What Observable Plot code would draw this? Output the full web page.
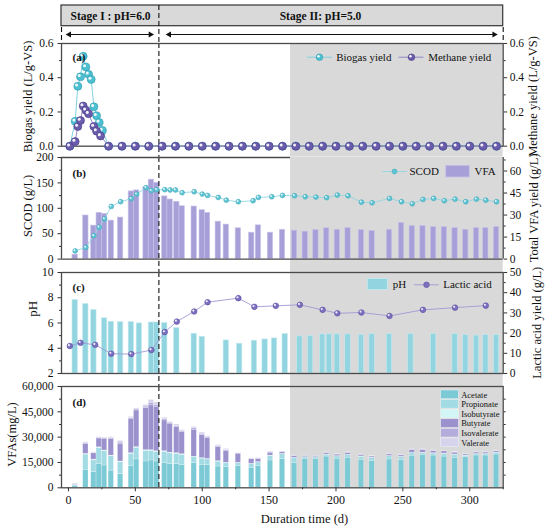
<!DOCTYPE html>
<html><head><meta charset="utf-8">
<script src="https://cdn.jsdelivr.net/npm/d3@7"></script>
<script src="https://cdn.jsdelivr.net/npm/@observablehq/plot@0.6"></script>
<style>
body{margin:0;background:#fff}
#c{position:relative;width:550px;height:529px;overflow:hidden}
#c svg{position:absolute;left:0;overflow:visible;background:transparent !important}
#c svg, #c svg text{font-family:"Liberation Serif","Times New Roman",serif !important}
</style></head><body><div id="c"></div>
<script>
// ---------------- DATA ----------------
// Panel (a)
const biogasDays = [1,5,7,9,11,13,15,17,19,21,23,25.4,30,40,50,60,70,80,90,100,110,120,130,140,150,160,170,180,190,200,210,220,230,240,250,260,270,280,290,300,310,320];
const biogasYield = [0,0.145,0.35,0.405,0.525,0.463,0.42,0.39,0.23,0.178,0.139,0.092,0,0,0,0,0,0,0,0,0,0,0,0,0,0,0,0,0,0,0,0,0,0,0,0,0,0,0,0,0,0];
const methaneDays = [1,5,7,9,11,13,15,19,21,24,30,40,50,60,70,80,90,100,110,120,130,140,150,160,170,180,190,200,210,220,230,240,250,260,270,280,290,300,310,320];
const methaneYield = [0,0.027,0.115,0.15,0.235,0.21,0.19,0.115,0.088,0.06,0,0,0,0,0,0,0,0,0,0,0,0,0,0,0,0,0,0,0,0,0,0,0,0,0,0,0,0,0,0];
// Panel (b)
const scodDays = [5,13,19,23,27,32,39,47,51,58,62,66,72,76,80,85,94,100,104,112,118,127,138,142,152,160,169,177,185,193,201,209,219,227,240,249,257,265,273,281,289,297,305,312,320];
const scod = [16,23,46,62.6,79,103.6,113,119,128,140.6,134.6,136.6,136.6,136,136,130.7,132.6,128,125.3,121.4,116,112.9,114.9,121.4,122.7,125.3,124.7,122.7,122,121,126,124.7,112,110.8,119.4,112.9,108.9,117.4,119.4,114.9,118,112.9,118,116,112.9];
const barDays = [5,13,19,23,27,32,39,47,51,58,62,66,72,76,81,85,94,100,104,112,118,127,137,142,151,160,169,177,185,193,201,209,219,227,240,249,257,265,273,281,289,297,305,312,320];
const vfaTotal = [3,29.7,22.8,31.5,30.8,26.2,28.3,46.1,46.8,49,54.1,52,42.7,40.6,39,36,35.8,33.3,31.5,25.5,23.5,21,18,23,18,20,19.4,18.7,19.9,21,20,21.2,19.9,19.2,20,24.7,22.6,22.6,21.9,21.9,21.2,20,21.2,21.2,21.9];
// Panel (c)
const phDays = [5,13,19,27,32,39,47,53,62,66,72,81,94,100,118,128,139,147,154,162,173,181,190,195,201,209,219,227,240,256,273,289,297,305,312,320];
const ph = [7.82,7.5,7.03,6.37,6.1,6.07,6.07,5.97,6.04,6.04,6.0,5.6,5.15,4.91,4.62,4.36,4.6,4.7,4.78,5.13,4.94,4.98,5.1,5.1,5.1,5.1,5.07,5.13,5.13,5.13,5.13,5.13,5.05,5.0,5.05,5.05];
const lacticDays = [1,9,20,32,47,62,72,81,94,104,127,139,155,173,190,201,219,240,265,289,312];
const lactic = [13.6,15.2,14.2,9.8,9.6,11.6,20.5,25.7,30.7,35.3,37.3,33,33.5,34,31.5,29.8,30.2,28.5,31.5,32.6,33.6];
// Panel (d) VFA composition (mg/L), same days as barDays
const acetate = [1200,10700,9300,14200,13200,10200,8300,12800,16800,15600,16200,15600,14800,14200,14200,13600,14800,13600,13600,12600,12200,12800,11900,12800,16200,17200,14600,17200,17200,18500,17200,17800,16600,16000,16800,16400,19000,19500,19100,18500,17800,18200,19100,19100,19700];
const propionate = [500,9000,7000,9400,8500,8500,7000,7300,6900,6300,5700,5700,6500,6200,5900,5900,3300,3700,3200,2900,2300,1800,2100,2200,2700,2700,3000,800,800,1000,1400,1600,1800,1600,1900,1800,1500,1100,1200,1600,1700,700,800,800,900];
const isobutyrate = [100,400,400,400,400,400,300,400,400,400,400,400,400,400,400,400,300,300,300,300,300,200,200,200,200,200,200,200,200,200,200,200,200,200,200,200,200,200,200,200,200,200,200,200,200];
const butyrate = [400,5900,3700,5200,6900,9900,10200,20400,21700,24900,26500,26000,18200,17200,15400,13300,16000,13700,12300,8300,6900,5400,2800,1900,1600,1000,900,600,600,900,900,1000,900,700,900,800,1700,1600,1300,1300,1100,700,800,800,800];
const isovalerate = [100,500,300,400,400,500,1000,500,600,900,1600,1400,800,500,800,500,800,700,550,600,600,150,150,200,400,200,200,100,100,200,150,200,150,150,150,150,200,200,200,200,200,150,200,200,200];
const valerate = [100,500,300,400,300,500,1000,600,600,900,1600,1400,800,500,800,500,800,700,550,600,700,150,150,200,400,200,200,100,100,200,150,200,150,150,150,150,200,200,200,200,200,150,200,200,200];
const acidNames = ["Acetate","Propionate","Isobutyrate","Butyrate","Isovalerate","Valerate"];
const acidColors = ["#7ccad6","#a3dbe4","#d2f6f6","#9a91cd","#b4addb","#d6d3ec"];
// Tick labels
const xTicks = [0,50,100,150,200,250,300];
const xMinor = [25,75,125,175,225,275,325];
const stageLabels = ["Stage I : pH=6.0","Stage II: pH=5.0"];

// ---------------- LAYOUT ----------------
const W = 550, ML = 61, MR = 47.3;
const xDomain = [-5.2, 325];
const stageSplit = 67.6, grayStart = 166;
const xS = d3.scaleLinear(xDomain, [ML, W - MR]);
const X = px => xS.invert(px);
const SERIF = "Liberation Serif";
const FR = "#4a4a4a", GRAY = "#d9d9d9";
const TICK_FS = 11.5;
const root = document.getElementById("c");

function mount(svg, top){ svg.style.top = top + "px"; root.appendChild(svg); }
function base(o){
  return Plot.plot(Object.assign({
    width: W, marginLeft: ML, marginRight: MR,
    x: {domain: xDomain, axis: null},
    style: {background: "transparent", overflow: "visible", fontSize: "12px", color: "#111"}
  }, o));
}
// tick values in secondary units mapped into panel units by m()
function yAxes(major, minor, fmt, anchor, m = v => v, inv = v => v){
  return [
    Plot.axisY(minor.map(m), {anchor, tickSize: 2, tickFormat: () => "", stroke: "#333", label: null}),
    Plot.axisY(major.map(m), {anchor, tickSize: 3.5, tickPadding: anchor === "left" ? 4.5 : 3, label: null,
      tickFormat: d => fmt(+inv(d).toFixed(6)), fontSize: TICK_FS, stroke: "#333", fontFamily: SERIF})
  ];
}
function balls(data, r, fill, edge){
  return [
    Plot.dot(data, {x: "day", y: "v", r, fill, stroke: edge, strokeWidth: 0.6}),
    Plot.dot(data, {x: "day", y: "v", r: r*0.38, dx: -r*0.32, dy: -r*0.32, fill: "#fff", fillOpacity: 0.9})
  ];
}
const vlabel = (t, px, Y, py, size = 12.5) => Plot.text([t], {x: X(px), y: Y(py), rotate: -90, fontSize: size, fontFamily: SERIF});
const zip = (days, vals, k = 1) => days.map((d, i) => ({day: d, v: vals[i]*k}));
const f1 = d3.format(".1f"), fInt = d => String(d), fComma = d3.format(",");

// ---------------- HEADER ----------------
{
  const arrowY = 34;
  const arrows = [[65.7, 153], [165.7, 496.7]];
  const heads = [];
  arrows.forEach(([a, b]) => { heads.push({x: X(a + 3), rot: -90}); heads.push({x: X(b - 3), rot: 90}); });
  mount(base({
    height: 43, marginTop: 0, marginBottom: 0,
    y: {domain: [43, 0], axis: null},
    marks: [
      Plot.rect([0], {x1: xDomain[0], x2: xDomain[1], y1: 5, y2: 25.7, fill: GRAY, stroke: "#333", strokeWidth: 1.2}),
      Plot.ruleX([stageSplit], {y1: 5, y2: 43, stroke: "#111", strokeWidth: 1.1, strokeDasharray: "5,3"}),
      Plot.ruleX(xDomain, {y1: 27, y2: 43, stroke: "#111", strokeWidth: 1.1, strokeDasharray: "5,3"}),
      Plot.text(stageLabels, {x: (d, i) => X(i ? 320 : 110), y: 15.5, text: d => d, fontWeight: "bold", fontSize: 11.5, fontFamily: SERIF}),
      Plot.link(arrows, {x1: d => X(d[0] + 2), x2: d => X(d[1] - 2), y1: arrowY, y2: arrowY, stroke: "#111", strokeWidth: 1.1}),
      Plot.dot(heads, {x: "x", y: arrowY, symbol: "triangle", r: 2.3, rotate: "rot", fill: "#111", stroke: "none"})
    ]
  }), 0);
}

// ---------------- PANEL (a) ----------------
{
  const top = 43, frameH = 102.7, gap = 11, dom = [0, 0.6];
  const ext = gap / frameH * (dom[1] - dom[0]);
  const Y = d3.scaleLinear([top + frameH, top], dom).clamp(false);
  const ly = Y(56.7);
  const bio = zip(biogasDays, biogasYield), met = zip(methaneDays, methaneYield);
  const leg = [{x1: 306.7, x2: 331.7, xd: 319, xt: 335.7, t: "Biogas yield", c: "#4cbfd0", e: "#2d9db2", l: "#7fd2de"},
               {x1: 398, x2: 423, xd: 411, xt: 427.7, t: "Methane yield", c: "#6b5bab", e: "#4b3d8a", l: "#9286c8"}];
  mount(base({
    height: frameH + gap, marginTop: 0, marginBottom: gap,
    y: {domain: dom, axis: null},
    marks: [
      Plot.rect([0], {x1: grayStart, x2: xDomain[1], y1: dom[1], y2: dom[0] - ext, fill: GRAY}),
      Plot.ruleX([stageSplit], {y1: dom[1], y2: dom[0] - ext, stroke: "#111", strokeWidth: 1.1, strokeDasharray: "5,3"}),
      Plot.frame({stroke: FR, strokeWidth: 1.3}),
      Plot.line(bio, {x: "day", y: "v", stroke: "#7fd2de", strokeWidth: 1}),
      Plot.line(met, {x: "day", y: "v", stroke: "#9286c8", strokeWidth: 1}),
      ...balls(bio, 4, "#4cbfd0", "#2d9db2"),
      ...balls(met, 4, "#6b5bab", "#4b3d8a"),
      ...yAxes([0, 0.2, 0.4, 0.6], [0.1, 0.3, 0.5], f1, "left"),
      ...yAxes([0, 0.2, 0.4, 0.6], [0.1, 0.3, 0.5], f1, "right"),
      Plot.text(["(a)"], {frameAnchor: "top-left", dx: 11, dy: 10, fontWeight: "bold", fontSize: 11, fontFamily: SERIF}),
      vlabel("Biogas yield (L/g-VS)", 27, Y, 96),
      vlabel("Methane yield (L/g-VS)", 533, Y, 96),
      Plot.link(leg, {x1: d => X(d.x1), x2: d => X(d.x2), y1: ly, y2: ly, stroke: "l", strokeWidth: 1}),
      Plot.dot(leg, {x: d => X(d.xd), y: ly, r: 3.3, fill: "c", stroke: "e", strokeWidth: 0.6}),
      Plot.dot(leg, {x: d => X(d.xd), y: ly, r: 1.2, dx: -1, dy: -1, fill: "#fff"}),
      Plot.text(leg, {x: d => X(d.xt), y: ly, text: "t", textAnchor: "start", fontSize: 11, fontFamily: SERIF})
    ]
  }), top);
}

// ---------------- PANEL (b) ----------------
{
  const top = 156.7, frameH = 101.6, gap = 13.4, dom = [0, 200];
  const rightMax = 69.2, k = dom[1] / rightMax;
  const ext = gap / frameH * dom[1];
  const Y = d3.scaleLinear([top + frameH, top], dom).clamp(false);
  const ly = Y(170.7);
  const sc = zip(scodDays, scod), vf = zip(barDays, vfaTotal, k);
  mount(base({
    height: frameH + gap, marginTop: 0, marginBottom: gap,
    y: {domain: dom, axis: null},
    marks: [
      Plot.rect([0], {x1: grayStart, x2: xDomain[1], y1: dom[1], y2: -ext, fill: GRAY}),
      Plot.rect(vf, {x1: d => d.day - 2, x2: d => d.day + 2, y1: 0, y2: "v", fill: "#a79fd8", stroke: "#c9c3ea", strokeWidth: 0.6}),
      Plot.ruleX([stageSplit], {y1: dom[1], y2: -ext, stroke: "#111", strokeWidth: 1.1, strokeDasharray: "5,3"}),
      Plot.ruleY([0], {stroke: FR, strokeWidth: 1.3}),
      Plot.ruleY([dom[1]], {x1: xDomain[0], x2: grayStart, stroke: FR, strokeWidth: 1.3}),
      Plot.ruleX(xDomain, {y1: 0, y2: dom[1], stroke: FR, strokeWidth: 1.3}),
      Plot.line(sc, {x: "day", y: "v", stroke: "#93d6e1", strokeWidth: 0.9}),
      ...balls(sc, 2.4, "#5fc5d4", "#3aa9ba"),
      ...yAxes([0, 50, 100, 150, 200], [25, 75, 125, 175], fInt, "left"),
      ...yAxes([0, 15, 30, 45, 60], [7.5, 22.5, 37.5, 52.5, 67.5], fInt, "right", v => v * k, d => d / k),
      Plot.text(["(b)"], {frameAnchor: "top-left", dx: 11, dy: 11.5, fontWeight: "bold", fontSize: 11, fontFamily: SERIF}),
      vlabel("SCOD (g/L)", 27, Y, 205),
      vlabel("Total VFA yield (g/L)", 533, Y, 207),
      Plot.link([0], {x1: X(381.7), x2: X(406.7), y1: ly, y2: ly, stroke: "#93d6e1", strokeWidth: 0.9}),
      Plot.dot([0], {x: X(394), y: ly, r: 2.4, fill: "#5fc5d4", stroke: "#3aa9ba", strokeWidth: 0.6}),
      Plot.text(["SCOD"], {x: X(409), y: ly, textAnchor: "start", fontSize: 11, fontFamily: SERIF}),
      Plot.rect([0], {x1: X(445.7), x2: X(469.3), y1: Y(165), y2: Y(176.7), fill: "#a79fd8", stroke: "#c9c3ea", strokeWidth: 0.8}),
      Plot.text(["VFA"], {x: X(474), y: ly, textAnchor: "start", fontSize: 11, fontFamily: SERIF})
    ]
  }), top);
}

// ---------------- PANEL (c) ----------------
{
  const top = 271.7, frameH = 101, gap = 13.3, dom = [2, 10];
  const k = (dom[1] - dom[0]) / 50;
  const ext = gap / frameH * (dom[1] - dom[0]);
  const Y = d3.scaleLinear([top + frameH, top], dom).clamp(false);
  const ly = Y(284);
  const p = zip(phDays, ph);
  const la = lacticDays.map((d, i) => ({day: d, v: dom[0] + lactic[i] * k}));
  mount(base({
    height: frameH + gap, marginTop: 0, marginBottom: gap,
    y: {domain: dom, axis: null},
    marks: [
      Plot.rect([0], {x1: grayStart, x2: xDomain[1], y1: dom[1], y2: dom[0] - ext, fill: GRAY}),
      Plot.rect(p, {x1: d => d.day - 2, x2: d => d.day + 2, y1: dom[0], y2: "v", fill: "#92d4df", stroke: "#c4ebf1", strokeWidth: 0.6}),
      Plot.ruleX([stageSplit], {y1: dom[1], y2: dom[0] - ext, stroke: "#111", strokeWidth: 1.1, strokeDasharray: "5,3"}),
      Plot.frame({stroke: FR, strokeWidth: 1.3}),
      Plot.line(la, {x: "day", y: "v", stroke: "#a198d4", strokeWidth: 0.9}),
      ...balls(la, 2.8, "#7c70c0", "#5a4ea0"),
      ...yAxes([2, 4, 6, 8, 10], [3, 5, 7, 9], fInt, "left"),
      ...yAxes([0, 10, 20, 30, 40, 50], [5, 15, 25, 35, 45], fInt, "right", v => dom[0] + v * k, d => (d - dom[0]) / k),
      Plot.text(["(c)"], {frameAnchor: "top-left", dx: 11, dy: 11, fontWeight: "bold", fontSize: 11, fontFamily: SERIF}),
      vlabel("pH", 32, Y, 308, 13),
      vlabel("Lactic acid yield (g/L)", 536.5, Y, 322),
      Plot.rect([0], {x1: X(367.3), x2: X(387.3), y1: Y(278.3), y2: Y(289.3), fill: "#92d4df", stroke: "#c4ebf1", strokeWidth: 0.8}),
      Plot.text(["pH"], {x: X(392.3), y: ly, textAnchor: "start", fontSize: 11, fontFamily: SERIF}),
      Plot.link([0], {x1: X(413.3), x2: X(438.3), y1: ly, y2: ly, stroke: "#a198d4", strokeWidth: 0.9}),
      Plot.dot([0], {x: X(426), y: ly, r: 2.8, fill: "#7c70c0", stroke: "#5a4ea0", strokeWidth: 0.6}),
      Plot.text(["Lactic acid"], {x: X(442.7), y: ly, textAnchor: "start", fontSize: 11, fontFamily: SERIF})
    ]
  }), top);
}

// ---------------- PANEL (d) ----------------
{
  const top = 386, frameH = 101.3, bottom = 41.7, dom = [0, 60000];
  const Y = d3.scaleLinear([top + frameH, top], dom).clamp(false);
  const comps = [acetate, propionate, isobutyrate, butyrate, isovalerate, valerate];
  const stack = [];
  barDays.forEach((day, i) => {
    let acc = 0;
    comps.forEach((arr, j) => { stack.push({day, type: acidNames[j], y1: acc, y2: acc + arr[i]}); acc += arr[i]; });
  });
  const leg = acidNames.map((n, i) => ({n, i}));
  mount(base({
    height: frameH + bottom, marginTop: 0, marginBottom: bottom,
    y: {domain: dom, axis: null},
    color: {domain: acidNames, range: acidColors},
    marks: [
      Plot.rect([0], {x1: grayStart, x2: xDomain[1], y1: dom[1], y2: dom[0], fill: GRAY}),
      Plot.rect(stack, {x1: d => d.day - 2, x2: d => d.day + 2, y1: "y1", y2: "y2", fill: "type", stroke: "#ffffff", strokeOpacity: 0.45, strokeWidth: 0.5}),
      Plot.ruleX([stageSplit], {y1: dom[1], y2: dom[0], stroke: "#111", strokeWidth: 1.1, strokeDasharray: "5,3"}),
      Plot.frame({stroke: FR, strokeWidth: 1.3}),
      ...yAxes([0, 15000, 30000, 45000, 60000], [7500, 22500, 37500, 52500], fComma, "left"),
      Plot.axisY([7500, 15000, 22500, 30000, 37500, 45000, 52500], {anchor: "right", tickSize: 2, tickFormat: () => "", stroke: "#333", label: null}),
      Plot.axisX(xMinor, {anchor: "bottom", tickSize: 2, tickFormat: () => "", stroke: "#333", label: null}),
      Plot.axisX(xTicks, {anchor: "bottom", tickSize: 4, tickPadding: 4, fontSize: 12, stroke: "#333", label: null, fontFamily: SERIF}),
      Plot.text(["(d)"], {frameAnchor: "top-left", dx: 11, dy: 12, fontWeight: "bold", fontSize: 11, fontFamily: SERIF}),
      vlabel("VFAs(mg/L)", 11, Y, 434),
      Plot.text(["Duration time (d)"], {x: X(304), y: Y(518.5), fontSize: 12.5, fontFamily: SERIF}),
      Plot.rect(leg, {x1: X(440.7), x2: X(458.3), y1: d => Y(390 + d.i * 9.6), y2: d => Y(398.6 + d.i * 9.6), fill: "n", stroke: "#ffffff", strokeOpacity: 0.6, strokeWidth: 0.6}),
      Plot.text(leg, {x: X(460.7), y: d => Y(394.3 + d.i * 9.6), text: "n", textAnchor: "start", fontSize: 8.5, fontFamily: SERIF})
    ]
  }), top);
}
</script>
</body></html>
